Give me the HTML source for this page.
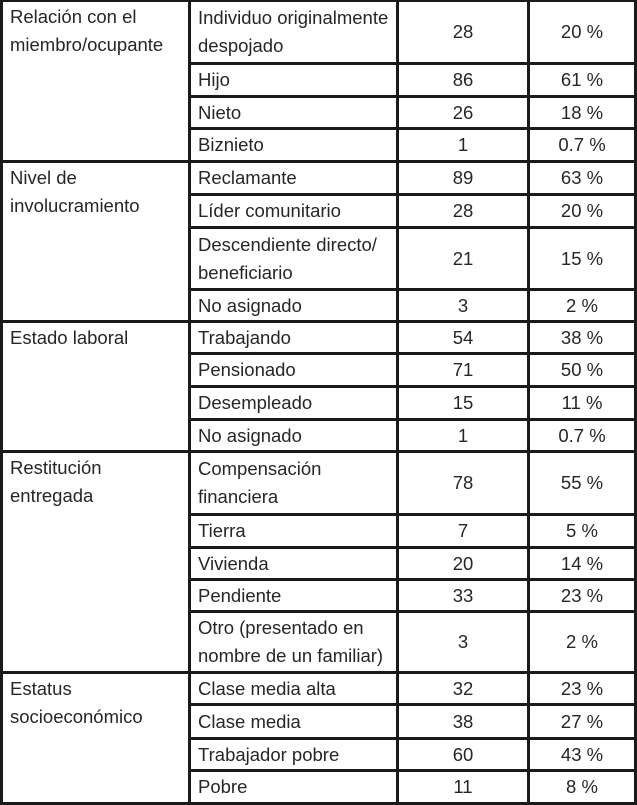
<!DOCTYPE html>
<html>
<head>
<meta charset="utf-8">
<style>
  html, body { margin:0; padding:0; background:#fff; }
  body { width:637px; height:805px; position:relative; overflow:hidden;
         font-family:"Liberation Sans", "DejaVu Sans", sans-serif; font-size:18.5px; color:#262626; }
  .h { position:absolute; height:3px; background:#1a1a1a; }
  .v { position:absolute; width:3px; background:#1a1a1a; top:0; height:805px; }
  .c { position:absolute; display:flex; align-items:center; line-height:28px; white-space:nowrap; }
  .l { justify-content:flex-start; }
  .m { justify-content:center; }
  .g { position:absolute; left:10px; line-height:28px; white-space:nowrap; }
</style>
</head>
<body>
<!-- vertical lines -->
<div class="v" style="left:0"></div>
<div class="v" style="left:188px"></div>
<div class="v" style="left:396px"></div>
<div class="v" style="left:527px"></div>
<div class="v" style="left:634px"></div>

<!-- full-width horizontal lines -->
<div class="h" style="left:0;width:637px;top:-1px"></div>
<div class="h" style="left:0;width:637px;top:160px"></div>
<div class="h" style="left:0;width:637px;top:320px"></div>
<div class="h" style="left:0;width:637px;top:450px"></div>
<div class="h" style="left:0;width:637px;top:671px"></div>
<div class="h" style="left:0;width:637px;top:802px"></div>

<!-- inner horizontal lines -->
<div class="h" style="left:188px;width:449px;top:62px"></div>
<div class="h" style="left:188px;width:449px;top:95px"></div>
<div class="h" style="left:188px;width:449px;top:127px"></div>
<div class="h" style="left:188px;width:449px;top:193px"></div>
<div class="h" style="left:188px;width:449px;top:226px"></div>
<div class="h" style="left:188px;width:449px;top:288px"></div>
<div class="h" style="left:188px;width:449px;top:352px"></div>
<div class="h" style="left:188px;width:449px;top:385px"></div>
<div class="h" style="left:188px;width:449px;top:418px"></div>
<div class="h" style="left:188px;width:449px;top:513px"></div>
<div class="h" style="left:188px;width:449px;top:546px"></div>
<div class="h" style="left:188px;width:449px;top:578px"></div>
<div class="h" style="left:188px;width:449px;top:610px"></div>
<div class="h" style="left:188px;width:449px;top:703px"></div>
<div class="h" style="left:188px;width:449px;top:737px"></div>
<div class="h" style="left:188px;width:449px;top:769px"></div>

<!-- group labels -->
<div class="g" style="top:3px">Relación con el<br>miembro/ocupante</div>
<div class="g" style="top:164px">Nivel de<br>involucramiento</div>
<div class="g" style="top:324px">Estado laboral</div>
<div class="g" style="top:454px">Restitución<br>entregada</div>
<div class="g" style="top:675px">Estatus<br>socioeconómico</div>

<!-- rows -->
<div class="c l" style="left:198px;top:2px;height:60px">Individuo originalmente<br>despojado</div>
<div class="c m" style="left:399px;width:128px;top:2px;height:60px">28</div>
<div class="c m" style="left:530px;width:104px;top:2px;height:60px">20 %</div>

<div class="c l" style="left:198px;top:65px;height:30px">Hijo</div>
<div class="c m" style="left:399px;width:128px;top:65px;height:30px">86</div>
<div class="c m" style="left:530px;width:104px;top:65px;height:30px">61 %</div>

<div class="c l" style="left:198px;top:98px;height:29px">Nieto</div>
<div class="c m" style="left:399px;width:128px;top:98px;height:29px">26</div>
<div class="c m" style="left:530px;width:104px;top:98px;height:29px">18 %</div>

<div class="c l" style="left:198px;top:130px;height:30px">Biznieto</div>
<div class="c m" style="left:399px;width:128px;top:130px;height:30px">1</div>
<div class="c m" style="left:530px;width:104px;top:130px;height:30px">0.7 %</div>

<div class="c l" style="left:198px;top:163px;height:30px">Reclamante</div>
<div class="c m" style="left:399px;width:128px;top:163px;height:30px">89</div>
<div class="c m" style="left:530px;width:104px;top:163px;height:30px">63 %</div>

<div class="c l" style="left:198px;top:196px;height:30px">Líder comunitario</div>
<div class="c m" style="left:399px;width:128px;top:196px;height:30px">28</div>
<div class="c m" style="left:530px;width:104px;top:196px;height:30px">20 %</div>

<div class="c l" style="left:198px;top:229px;height:59px">Descendiente directo/<br>beneficiario</div>
<div class="c m" style="left:399px;width:128px;top:229px;height:59px">21</div>
<div class="c m" style="left:530px;width:104px;top:229px;height:59px">15 %</div>

<div class="c l" style="left:198px;top:291px;height:29px">No asignado</div>
<div class="c m" style="left:399px;width:128px;top:291px;height:29px">3</div>
<div class="c m" style="left:530px;width:104px;top:291px;height:29px">2 %</div>

<div class="c l" style="left:198px;top:323px;height:29px">Trabajando</div>
<div class="c m" style="left:399px;width:128px;top:323px;height:29px">54</div>
<div class="c m" style="left:530px;width:104px;top:323px;height:29px">38 %</div>

<div class="c l" style="left:198px;top:355px;height:30px">Pensionado</div>
<div class="c m" style="left:399px;width:128px;top:355px;height:30px">71</div>
<div class="c m" style="left:530px;width:104px;top:355px;height:30px">50 %</div>

<div class="c l" style="left:198px;top:388px;height:30px">Desempleado</div>
<div class="c m" style="left:399px;width:128px;top:388px;height:30px">15</div>
<div class="c m" style="left:530px;width:104px;top:388px;height:30px">11 %</div>

<div class="c l" style="left:198px;top:421px;height:29px">No asignado</div>
<div class="c m" style="left:399px;width:128px;top:421px;height:29px">1</div>
<div class="c m" style="left:530px;width:104px;top:421px;height:29px">0.7 %</div>

<div class="c l" style="left:198px;top:453px;height:60px">Compensación<br>financiera</div>
<div class="c m" style="left:399px;width:128px;top:453px;height:60px">78</div>
<div class="c m" style="left:530px;width:104px;top:453px;height:60px">55 %</div>

<div class="c l" style="left:198px;top:516px;height:30px">Tierra</div>
<div class="c m" style="left:399px;width:128px;top:516px;height:30px">7</div>
<div class="c m" style="left:530px;width:104px;top:516px;height:30px">5 %</div>

<div class="c l" style="left:198px;top:549px;height:29px">Vivienda</div>
<div class="c m" style="left:399px;width:128px;top:549px;height:29px">20</div>
<div class="c m" style="left:530px;width:104px;top:549px;height:29px">14 %</div>

<div class="c l" style="left:198px;top:581px;height:29px">Pendiente</div>
<div class="c m" style="left:399px;width:128px;top:581px;height:29px">33</div>
<div class="c m" style="left:530px;width:104px;top:581px;height:29px">23 %</div>

<div class="c l" style="left:198px;top:613px;height:58px">Otro (presentado en<br>nombre de un familiar)</div>
<div class="c m" style="left:399px;width:128px;top:613px;height:58px">3</div>
<div class="c m" style="left:530px;width:104px;top:613px;height:58px">2 %</div>

<div class="c l" style="left:198px;top:674px;height:29px">Clase media alta</div>
<div class="c m" style="left:399px;width:128px;top:674px;height:29px">32</div>
<div class="c m" style="left:530px;width:104px;top:674px;height:29px">23 %</div>

<div class="c l" style="left:198px;top:706px;height:31px">Clase media</div>
<div class="c m" style="left:399px;width:128px;top:706px;height:31px">38</div>
<div class="c m" style="left:530px;width:104px;top:706px;height:31px">27 %</div>

<div class="c l" style="left:198px;top:740px;height:29px">Trabajador pobre</div>
<div class="c m" style="left:399px;width:128px;top:740px;height:29px">60</div>
<div class="c m" style="left:530px;width:104px;top:740px;height:29px">43 %</div>

<div class="c l" style="left:198px;top:772px;height:30px">Pobre</div>
<div class="c m" style="left:399px;width:128px;top:772px;height:30px">11</div>
<div class="c m" style="left:530px;width:104px;top:772px;height:30px">8 %</div>
</body>
</html>
